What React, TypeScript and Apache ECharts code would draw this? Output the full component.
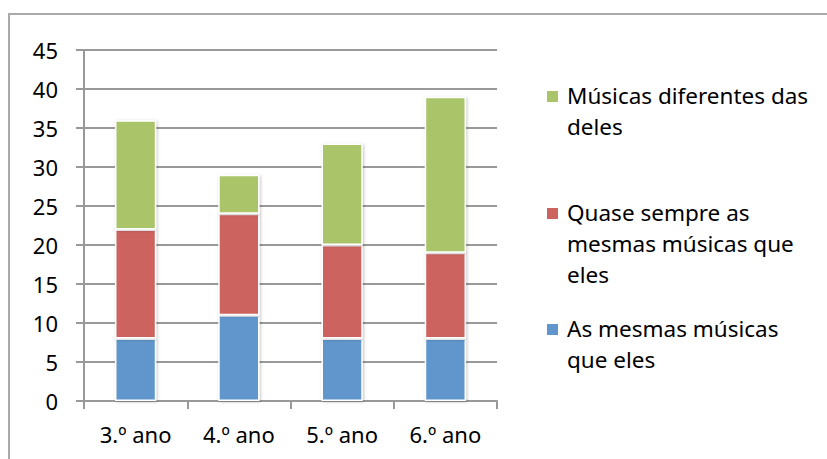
import React, { useEffect, useRef } from "react";
import * as echarts from "echarts";

const categories = ["3.º ano", "4.º ano", "5.º ano", "6.º ano"];
const seriesNames = [
  "As mesmas músicas que eles",
  "Quase sempre as mesmas músicas que eles",
  "Músicas diferentes das deles",
];
const mesmas = [8, 11, 8, 8];
const quase = [14, 13, 12, 11];
const diferentes = [14, 5, 13, 20];
const legendLines = [
  ["As mesmas músicas", "que eles"],
  ["Quase sempre as", "mesmas músicas que", "eles"],
  ["Músicas diferentes das", "deles"],
];
const colors = ["#6196CC", "#CD635E", "#AAC46B"];

const FONT = "'Noto Sans', sans-serif";

export default function App() {
  const ref = useRef<HTMLDivElement>(null);
  useEffect(() => {
    if (!ref.current) return;
    const chart = echarts.init(ref.current, null, { renderer: "svg" });
    const values = [mesmas, quase, diferentes];
    const legendY = [330, 214, 97];
    const lineH = 31;
    const legendGraphics: any[] = [];
    seriesNames.forEach((name, i) => {
      legendGraphics.push({
        type: "rect",
        shape: { x: 547, y: legendY[i] - 6, width: 11, height: 11 },
        style: { fill: colors[i] },
      });
      legendGraphics.push({
        type: "text",
        x: 567,
        y: legendY[i] - lineH / 2 - 2,
        style: {
          text: legendLines[i].join("\n"),
          fill: "#000",
          font: `22.5px ${FONT}`,
          lineHeight: lineH,
          verticalAlign: "top",
        },
      });
    });
    chart.setOption({
      animation: false,
      backgroundColor: "#fff",
      textStyle: { fontFamily: FONT },
      grid: { left: 84, right: 330, top: 50, bottom: 58, containLabel: false },
      xAxis: {
        type: "category",
        data: categories,
        axisLine: { lineStyle: { color: "#999", width: 2 } },
        axisTick: { show: true, length: 8, lineStyle: { color: "#999", width: 2 } },
        axisLabel: { color: "#000", fontSize: 22, margin: 22, fontFamily: FONT },
      },
      yAxis: {
        type: "value",
        min: 0,
        max: 45,
        interval: 5,
        axisLine: { show: true, lineStyle: { color: "#999", width: 2 } },
        axisTick: { show: true, length: 8, lineStyle: { color: "#999", width: 2 } },
        axisLabel: { color: "#000", fontSize: 22, margin: 26, fontFamily: FONT },
        splitLine: { lineStyle: { color: "#999", width: 2 } },
      },
      graphic: [
        {
          type: "polyline",
          shape: { points: [[9, 470], [9, 14], [830, 14]] },
          style: { stroke: "#aaa", lineWidth: 2, fill: "none" },
          silent: true,
        },
        ...legendGraphics,
      ],
      series: seriesNames.map((name, i) => ({
        name,
        type: "bar",
        stack: "total",
        data: values[i],
        barWidth: "40%",
        itemStyle: {
          color: colors[i],
          borderColor: "#fff",
          borderWidth: 1.5,
          shadowColor: "rgba(0,0,0,0.25)",
          shadowBlur: 3,
          shadowOffsetX: 1,
          shadowOffsetY: 1,
        },
      })),
    });
    return () => chart.dispose();
  }, []);
  return (
    <div
      ref={ref}
      style={{ position: "fixed", left: 0, top: 0, width: 827, height: 459 }}
    />
  );
}
